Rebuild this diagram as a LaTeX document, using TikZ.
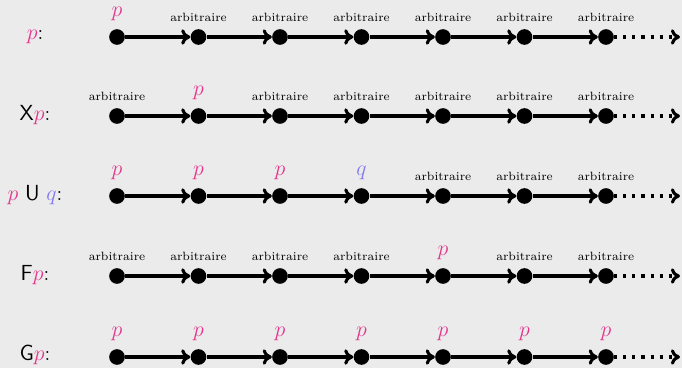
\documentclass[tikz,border=0pt]{standalone}
\usepackage{amsmath}
\usepackage{xcolor}
\usetikzlibrary{arrows.meta}
\definecolor{pcol}{RGB}{228,52,140}
\definecolor{qcol}{RGB}{128,120,240}
\definecolor{fondcol}{RGB}{235,235,235}
\newcommand{\pl}{$\textcolor{pcol}{p}$}
\newcommand{\ql}{$\textcolor{qcol}{q}$}
\newcommand{\ar}{{\fontsize{6.6}{8}\selectfont arbitraire}}

\begin{document}
\begin{tikzpicture}[x=0.55pt,y=-0.55pt,
  etat/.style={circle,fill=black,inner sep=0pt,minimum size=8.6pt},
  fleche/.style={line width=1.7pt,-{To[length=5pt,width=8.5pt]}},
  pointille/.style={line width=1.7pt,dash pattern=on 1.7pt off 3.3pt,-{To[length=5pt,width=8.5pt]}},
  etiq/.style={above=3pt,inner sep=1pt,font=\fontsize{12}{14}\selectfont},
  formule/.style={font=\fontsize{11.5}{13}\selectfont}]
\fill[fondcol] (0,0) rectangle (682,368);
\useasboundingbox (0,0) rectangle (682,368);

% the five runs
\foreach \i/\y in {1/37,2/116,3/196,4/276,5/357} {
  \foreach \j in {1,...,7}
    \node[etat] (r\i-\j) at ({117+81.5*(\j-1)},\y) {};
  \foreach \j [remember=\j as \k (initially 1)] in {2,...,7}
    \draw[fleche] (r\i-\k) -- (r\i-\j);
  \coordinate (fin\i) at (680,\y);
  \draw[pointille] (r\i-7) -- (fin\i);
}

% formulas
\node[formule] (f1) at (35,37) {\pl:};
\node[formule] (f2) at (35,115) {$\mathsf{X}$\pl:};
\node[formule] (f3) at (35,195) {\pl{} $\mathsf{U}$ \ql:};
\node[formule] (f4) at (35,275) {$\mathsf{F}$\pl:};
\node[formule] (f5) at (35,355) {$\mathsf{G}$\pl:};

% labels over the states
\foreach \lab [count=\j] in {\pl,\ar,\ar,\ar,\ar,\ar,\ar}
  \node[etiq] (t1-\j) at (r1-\j.north) {\lab};
\foreach \lab [count=\j] in {\ar,\pl,\ar,\ar,\ar,\ar,\ar}
  \node[etiq] (t2-\j) at (r2-\j.north) {\lab};
\foreach \lab [count=\j] in {\pl,\pl,\pl,\ql,\ar,\ar,\ar}
  \node[etiq] (t3-\j) at (r3-\j.north) {\lab};
\foreach \lab [count=\j] in {\ar,\ar,\ar,\ar,\pl,\ar,\ar}
  \node[etiq] (t4-\j) at (r4-\j.north) {\lab};
\foreach \lab [count=\j] in {\pl,\pl,\pl,\pl,\pl,\pl,\pl}
  \node[etiq] (t5-\j) at (r5-\j.north) {\lab};
\end{tikzpicture}
\end{document}
